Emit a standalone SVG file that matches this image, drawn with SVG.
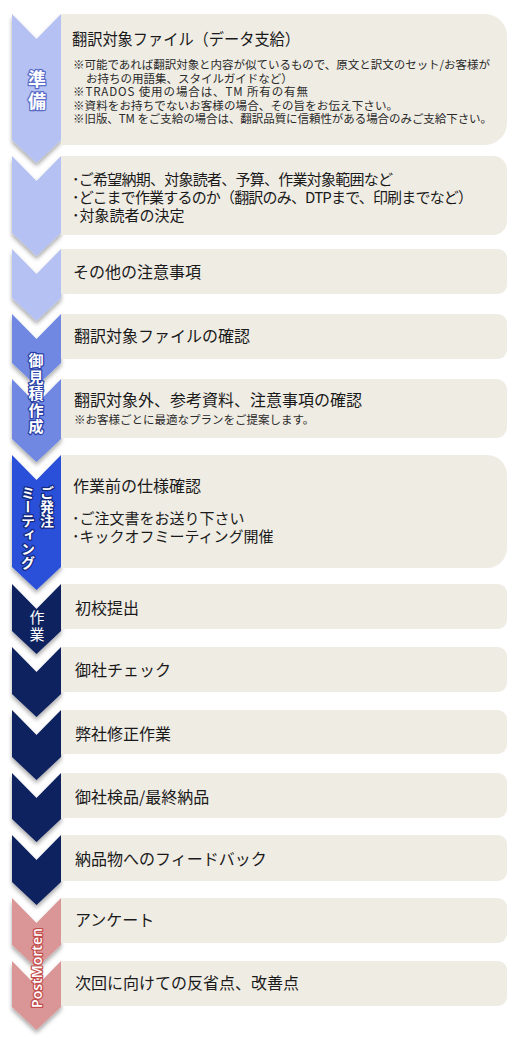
<svg xmlns="http://www.w3.org/2000/svg" width="520" height="1038" viewBox="0 0 520 1038">
<defs>
<filter id="sh" x="-30%" y="-10%" width="160%" height="130%">
<feDropShadow dx="0" dy="3" stdDeviation="2" flood-color="#000" flood-opacity="0.35"/>
</filter>
<style>
.box{fill:#efece4}
.t{font-family:"Noto Sans CJK JP",sans-serif;fill:#1a1a1a}
.m{font-size:16px}
.b{font-size:15px}
.s{font-size:11.5px;fill:#2a2a2a}
.c1{fill:#b5c1f2}
.c2{fill:#6f88e2}
.c3{fill:#2c50d8}
.c4{fill:#10205e}
.c5{fill:#da9696}
.lab{font-family:"Noto Sans CJK JP",sans-serif;font-weight:bold;fill:#fff;paint-order:stroke;stroke-linejoin:round}
.v{writing-mode:vertical-rl;text-anchor:start}
</style>
</defs>

<g id="connectors">
<path class="c1" filter="url(#sh)" d="M12,14 L36.5,39 L61,14 L61,140 L36.5,163 L12,140 Z"/>
<path class="c1" filter="url(#sh)" d="M12,156 L36.5,181 L61,156 L61,233 L36.5,256 L12,233 Z"/>
<path class="c1" filter="url(#sh)" d="M12,249 L36.5,274 L61,249 L61,298 L36.5,321 L12,298 Z"/>
<path class="c2" filter="url(#sh)" d="M12,314 L36.5,339 L61,314 L61,363 L36.5,386 L12,363 Z"/>
<path class="c2" filter="url(#sh)" d="M12,379 L36.5,404 L61,379 L61,439 L36.5,462 L12,439 Z"/>
<path class="c3" filter="url(#sh)" d="M12,455 L36.5,480 L61,455 L61,567 L36.5,590 L12,567 Z"/>
<path class="c4" filter="url(#sh)" d="M12,584 L36.5,609 L61,584 L61,631 L36.5,654 L12,631 Z"/>
<path class="c4" filter="url(#sh)" d="M12,647 L36.5,672 L61,647 L61,694 L36.5,717 L12,694 Z"/>
<path class="c4" filter="url(#sh)" d="M12,710 L36.5,735 L61,710 L61,757 L36.5,780 L12,757 Z"/>
<path class="c4" filter="url(#sh)" d="M12,773 L36.5,798 L61,773 L61,819 L36.5,842 L12,819 Z"/>
<path class="c4" filter="url(#sh)" d="M12,835 L36.5,860 L61,835 L61,882 L36.5,905 L12,882 Z"/>
<path class="c5" filter="url(#sh)" d="M12,898 L36.5,923 L61,898 L61,945 L36.5,968 L12,945 Z"/>
<path class="c5" filter="url(#sh)" d="M12,961 L36.5,986 L61,961 L61,1007 L36.5,1030 L12,1007 Z"/>
</g>

<g id="phase-junbi">
<text class="lab v" x="37" y="70" font-size="18" letter-spacing="4" stroke="#5a6cc8" stroke-width="2.5">準備</text>
</g>
<g id="phase-mitsumori">
<text class="lab v" x="36" y="353" font-size="15" letter-spacing="1.5" stroke="#2a3fa6" stroke-width="2.5">御見積作成</text>
</g>
<g id="phase-hatchu">
<text class="lab v" x="47" y="486" font-size="14" stroke="#14287e" stroke-width="2.5">ご発注</text>
<text class="lab v" x="28" y="486" font-size="14" stroke="#14287e" stroke-width="2.5">ミーティング</text>
</g>
<g id="phase-sagyo">
<text class="lab v" x="37" y="610" font-size="15" letter-spacing="2" style="font-weight:normal">作業</text>
</g>
<g id="phase-postmorten">
<text class="lab" x="0" y="0" font-size="14.5" stroke="#c24b4b" stroke-width="2.5" transform="translate(42,968) rotate(-90)" style="font-family:'Open Sans',sans-serif;font-weight:600;text-anchor:middle" textLength="80" lengthAdjust="spacingAndGlyphs">PostMorten</text>
</g>

<g id="node1">
<path class="box" d="M61,14 H485 A22,22 0 0 1 507,36 V123 A22,22 0 0 1 485,145 H61 Z"/>
<text class="t m" x="72" y="45" textLength="228" lengthAdjust="spacingAndGlyphs">翻訳対象ファイル（データ支給）</text>
<text class="t s" x="73" y="69" textLength="417" lengthAdjust="spacing">※可能であれば翻訳対象と内容が似ているもので、原文と訳文のセット/お客様が</text>
<text class="t s" x="86" y="82.5">お持ちの用語集、スタイルガイドなど）</text>
<text class="t s" x="73" y="96" textLength="235" lengthAdjust="spacing">※TRADOS 使用の場合は、TM 所有の有無</text>
<text class="t s" x="73" y="109.5" textLength="325" lengthAdjust="spacing">※資料をお持ちでないお客様の場合、その旨をお伝え下さい。</text>
<text class="t s" x="73" y="123" textLength="419" lengthAdjust="spacing">※旧版、TM をご支給の場合は、翻訳品質に信頼性がある場合のみご支給下さい。</text>
</g>

<g id="node2">
<path class="box" d="M61,156 H493 A14,14 0 0 1 507,170 V221 A14,14 0 0 1 493,235 H61 Z"/>
<text class="t b" x="72" y="185" textLength="321" lengthAdjust="spacing">･ご希望納期、対象読者、予算、作業対象範囲など</text>
<text class="t b" x="72" y="203" textLength="401" lengthAdjust="spacing">･どこまで作業するのか（翻訳のみ、DTPまで、印刷までなど）</text>
<text class="t b" x="72" y="221">･対象読者の決定</text>
</g>

<g id="node3">
<path class="box" d="M61,249 H498 A9,9 0 0 1 507,258 V285 A9,9 0 0 1 498,294 H61 Z"/>
<text class="t m" x="73" y="278">その他の注意事項</text>
</g>

<g id="node4">
<path class="box" d="M61,314 H498 A9,9 0 0 1 507,323 V350 A9,9 0 0 1 498,359 H61 Z"/>
<text class="t m" x="74" y="342">翻訳対象ファイルの確認</text>
</g>

<g id="node5">
<path class="box" d="M61,379 H496 A11,11 0 0 1 507,390 V427 A11,11 0 0 1 496,438 H61 Z"/>
<text class="t m" x="74" y="406">翻訳対象外、参考資料、注意事項の確認</text>
<text class="t s" x="74" y="424">※お客様ごとに最適なプランをご提案します。</text>
</g>

<g id="node6">
<path class="box" d="M61,455 H487 A20,20 0 0 1 507,475 V548 A20,20 0 0 1 487,568 H61 Z"/>
<text class="t m" x="73" y="491.5">作業前の仕様確認</text>
<text class="t b" x="72" y="524">･ご注文書をお送り下さい</text>
<text class="t b" x="72" y="541.5">･キックオフミーティング開催</text>
</g>

<g id="node7">
<path class="box" d="M61,584 H498 A9,9 0 0 1 507,593 V620 A9,9 0 0 1 498,629 H61 Z"/>
<text class="t m" x="75" y="614">初校提出</text>
</g>

<g id="node8">
<path class="box" d="M61,647 H498 A9,9 0 0 1 507,656 V683 A9,9 0 0 1 498,692 H61 Z"/>
<text class="t m" x="75" y="676">御社チェック</text>
</g>

<g id="node9">
<path class="box" d="M61,710 H498 A9,9 0 0 1 507,719 V745 A9,9 0 0 1 498,754 H61 Z"/>
<text class="t m" x="75" y="739.5">弊社修正作業</text>
</g>

<g id="node10">
<path class="box" d="M61,773 H498 A9,9 0 0 1 507,782 V809 A9,9 0 0 1 498,818 H61 Z"/>
<text class="t m" x="75" y="802.5">御社検品/最終納品</text>
</g>

<g id="node11">
<path class="box" d="M61,835 H498 A9,9 0 0 1 507,844 V872 A9,9 0 0 1 498,881 H61 Z"/>
<text class="t m" x="75" y="865">納品物へのフィードバック</text>
</g>

<g id="node12">
<path class="box" d="M61,898 H498 A9,9 0 0 1 507,907 V934 A9,9 0 0 1 498,943 H61 Z"/>
<text class="t m" x="75" y="926">アンケート</text>
</g>

<g id="node13">
<path class="box" d="M61,961 H498 A9,9 0 0 1 507,970 V997 A9,9 0 0 1 498,1006 H61 Z"/>
<text class="t m" x="75" y="988.5">次回に向けての反省点、改善点</text>
</g>
</svg>
